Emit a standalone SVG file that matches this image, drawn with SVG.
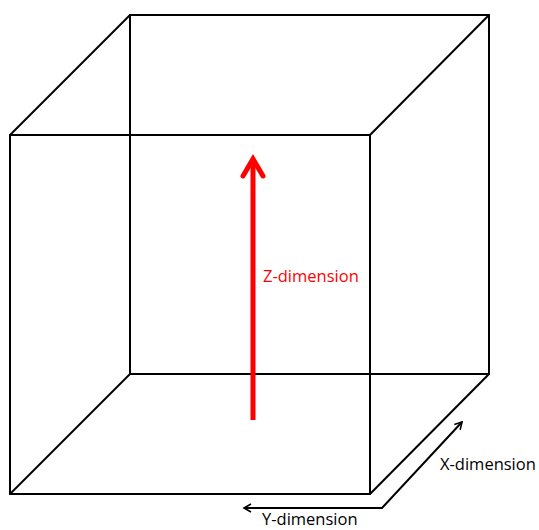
<svg xmlns="http://www.w3.org/2000/svg" width="539" height="530" viewBox="0 0 539 530">
<defs>
<style>
.edge{fill:none;stroke:#000;stroke-width:2;stroke-linejoin:miter}
.lbl{font-family:"Open Sans",sans-serif;font-size:16.5px}
</style>
<marker id="blk" viewBox="0 0 10 10" refX="8" refY="5" markerWidth="5" markerHeight="5" orient="auto-start-reverse" markerUnits="strokeWidth">
<path d="M1,1 L8,5 L1,9" fill="none" stroke="#000" stroke-width="1.6"/>
</marker>
</defs>
<rect width="539" height="530" fill="#fff"/>
<g id="cube">
<rect class="edge" x="130" y="15" width="359" height="359"/>
<rect class="edge" x="10" y="135" width="360" height="359"/>
<line class="edge" x1="130" y1="15" x2="10" y2="135"/>
<line class="edge" x1="489" y1="15" x2="370" y2="135"/>
<line class="edge" x1="130" y1="374" x2="10" y2="494"/>
<line class="edge" x1="489" y1="374" x2="370" y2="494"/>
</g>
<g id="connectors">
<g id="z-axis">
<line x1="253" y1="420" x2="253" y2="160" stroke="#f00" stroke-width="5"/>
<path d="M243,176 L253,159 L263,176" fill="none" stroke="#f00" stroke-width="5" stroke-linecap="round"/>
</g>
<path id="xy-axis" d="M244,508 L382,508 L462,422" fill="none" stroke="#000" stroke-width="2" marker-start="url(#blk)" marker-end="url(#blk)"/>
</g>
<g id="labels">
<text class="lbl" x="263" y="282" fill="#f00">Z-dimension</text>
<text class="lbl" x="440" y="470" fill="#000">X-dimension</text>
<text class="lbl" x="262" y="525" fill="#000">Y-dimension</text>
</g>
</svg>
